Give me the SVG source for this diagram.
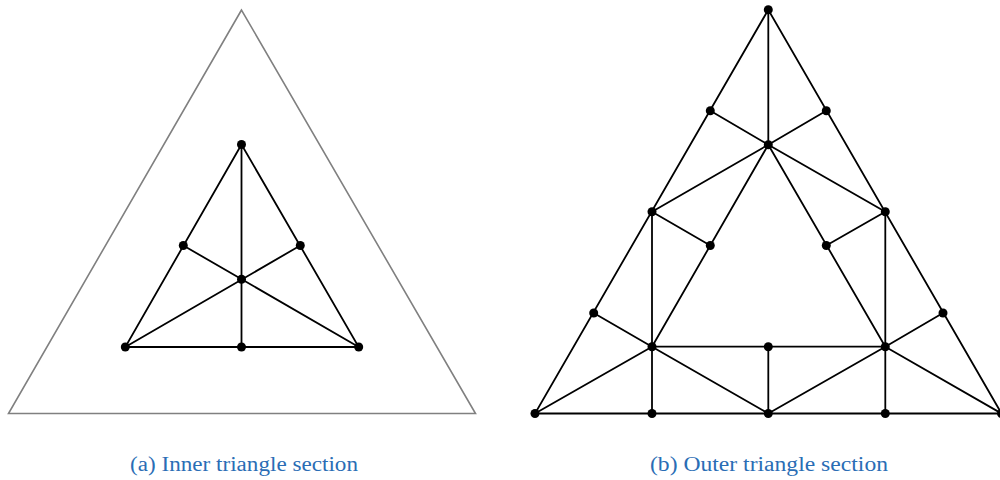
<svg xmlns="http://www.w3.org/2000/svg" width="1000" height="480" viewBox="0 0 1000 480">
<style>
.e{stroke:#000;stroke-width:1.8;fill:none;stroke-linecap:round}
.o{stroke:#808080;stroke-width:1.6;fill:none}
.n{fill:#000}
.cap{font-family:"Liberation Serif","Times New Roman",serif;font-size:20.5px;fill:#2a6db5;text-anchor:middle}
</style>
<rect width="1000" height="480" fill="#fff"/>
<g id="outline-a"><polygon class="o" points="241.5,10 8.5,413.5 475.5,413.5"/></g>
<g id="connectors-a">
<polygon class="e" points="241.5,144.5 125.3,347 358.7,347"/>
<line class="e" x1="241.5" y1="144.5" x2="241.5" y2="347"/>
<line class="e" x1="125.3" y1="347" x2="300.3" y2="245.5"/>
<line class="e" x1="358.7" y1="347" x2="183.3" y2="245.5"/>
</g>
<g id="nodes-a">
<circle class="n" cx="241.5" cy="144.5" r="4.5"/>
<circle class="n" cx="183.3" cy="245.5" r="4.5"/>
<circle class="n" cx="300.3" cy="245.5" r="4.5"/>
<circle class="n" cx="241.5" cy="279.3" r="4.5"/>
<circle class="n" cx="125.3" cy="347" r="4.5"/>
<circle class="n" cx="241.5" cy="347" r="4.5"/>
<circle class="n" cx="358.7" cy="347" r="4.5"/>
</g>
<g id="connectors-b">
<polygon class="e" points="768.3,9.7 535,413.5 1001.5,413.5"/>
<line class="e" x1="768.3" y1="9.7" x2="768.3" y2="144.7"/>
<line class="e" x1="710.3" y1="110.7" x2="768.3" y2="144.7"/>
<line class="e" x1="826.3" y1="110.7" x2="768.3" y2="144.7"/>
<line class="e" x1="652" y1="211.7" x2="768.3" y2="144.7"/>
<line class="e" x1="885.3" y1="211.7" x2="768.3" y2="144.7"/>
<line class="e" x1="768.3" y1="144.7" x2="652" y2="346.7"/>
<line class="e" x1="768.3" y1="144.7" x2="885.3" y2="346.7"/>
<line class="e" x1="652" y1="346.7" x2="885.3" y2="346.7"/>
<line class="e" x1="652" y1="211.7" x2="710.3" y2="245.5"/>
<line class="e" x1="885.3" y1="211.7" x2="826.3" y2="245.5"/>
<line class="e" x1="652" y1="211.7" x2="652" y2="413.5"/>
<line class="e" x1="885.3" y1="211.7" x2="885.3" y2="413.5"/>
<line class="e" x1="593.7" y1="313" x2="652" y2="346.7"/>
<line class="e" x1="943" y1="313" x2="885.3" y2="346.7"/>
<line class="e" x1="652" y1="346.7" x2="535" y2="413.5"/>
<line class="e" x1="652" y1="346.7" x2="768.3" y2="413.5"/>
<line class="e" x1="885.3" y1="346.7" x2="768.3" y2="413.5"/>
<line class="e" x1="885.3" y1="346.7" x2="1001.5" y2="413.5"/>
<line class="e" x1="768.3" y1="346.7" x2="768.3" y2="413.5"/>
</g>
<g id="nodes-b">
<circle class="n" cx="768.3" cy="9.7" r="4.5"/>
<circle class="n" cx="710.3" cy="110.7" r="4.5"/>
<circle class="n" cx="826.3" cy="110.7" r="4.5"/>
<circle class="n" cx="768.3" cy="144.7" r="4.5"/>
<circle class="n" cx="652" cy="211.7" r="4.5"/>
<circle class="n" cx="885.3" cy="211.7" r="4.5"/>
<circle class="n" cx="710.3" cy="245.5" r="4.5"/>
<circle class="n" cx="826.3" cy="245.5" r="4.5"/>
<circle class="n" cx="593.7" cy="313" r="4.5"/>
<circle class="n" cx="943" cy="313" r="4.5"/>
<circle class="n" cx="652" cy="346.7" r="4.5"/>
<circle class="n" cx="768.3" cy="346.7" r="4.5"/>
<circle class="n" cx="885.3" cy="346.7" r="4.5"/>
<circle class="n" cx="535" cy="413.5" r="4.5"/>
<circle class="n" cx="652" cy="413.5" r="4.5"/>
<circle class="n" cx="768.3" cy="413.5" r="4.5"/>
<circle class="n" cx="885.3" cy="413.5" r="4.5"/>
<circle class="n" cx="1001.5" cy="413.5" r="4.5"/>
</g>
<g id="captions">
<text class="cap" x="244" y="471" textLength="228" lengthAdjust="spacingAndGlyphs">(a) Inner triangle section</text>
<text class="cap" x="769" y="471" textLength="238" lengthAdjust="spacingAndGlyphs">(b) Outer triangle section</text>
</g>
</svg>
